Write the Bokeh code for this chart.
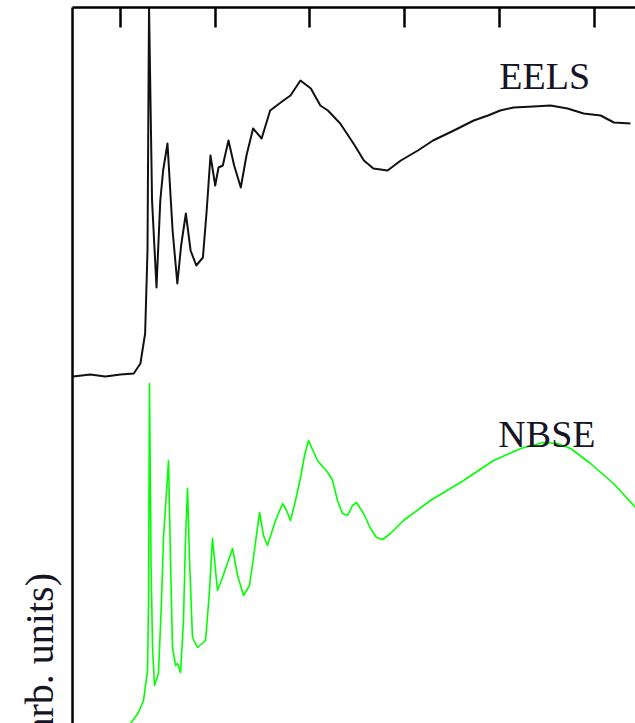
import numpy as np
from bokeh.plotting import figure
from bokeh.models import Range1d, LinearAxis, FixedTicker, Label, Title
from bokeh.embed import file_html
from bokeh.resources import INLINE

# energy (eV) and intensities (arb. units)
eels_energy = [275.0, 276.8, 278.4, 280.0, 281.4, 282.1, 282.6, 282.85, 283.01, 283.33,
               283.8, 284.2, 284.5, 284.96, 285.5, 286.0, 286.4, 286.9, 287.4, 288.0,
               288.7, 289.1, 289.5, 290.0, 290.35, 290.8, 291.4, 292.0, 292.7, 293.3,
               294.0, 294.9, 295.8, 297.2, 297.95, 299.0, 300.1, 301.1, 301.9, 303.2,
               304.6, 305.7, 306.7, 308.2, 309.6, 311.4, 313.0, 315.2, 317.3, 318.8,
               320.1, 321.5, 323.6, 325.4, 327.2, 328.9, 330.7, 332.1, 333.85]
eels = [-0.01, 0.01, -0.01, 0.01, 0.02, 0.12, 0.42, 1.25, 3.70, 1.75,
        0.88, 1.75, 2.05, 2.32, 1.45, 0.92, 1.30, 1.62, 1.25, 1.10,
        1.18, 1.65, 2.20, 1.90, 2.08, 2.10, 2.35, 2.10, 1.88, 2.20,
        2.47, 2.37, 2.65, 2.75, 2.80, 2.95, 2.87, 2.70, 2.65, 2.52,
        2.32, 2.15, 2.07, 2.05, 2.15, 2.25, 2.35, 2.45, 2.55, 2.60,
        2.65, 2.68, 2.69, 2.70, 2.67, 2.62, 2.60, 2.53, 2.52]

nbse_energy = [281.06, 281.9, 282.43, 282.85, 282.96, 283.06, 283.22, 283.38, 283.59, 284.01,
               284.33, 284.54, 285.07, 285.28, 285.49, 285.81, 286.02, 286.34, 286.65, 286.86,
               287.08, 287.29, 287.6, 288.13, 288.98, 289.4, 289.71, 290.24, 290.77, 291.83,
               292.36, 292.99, 293.62, 294.04, 294.68, 295.1, 295.52, 296.37, 297.11, 297.53,
               297.95, 298.48, 299.01, 299.43, 299.85, 300.8, 301.96, 302.39, 302.91, 303.44,
               303.97, 304.5, 304.92, 305.66, 306.4, 307.03, 307.67, 308.51, 309.88, 312.73,
               316.22, 319.39, 322.24, 324.67, 326.15, 327.52, 329.63, 332.06, 334.38]
nbse = [-0.08, 0.03, 0.15, 0.45, 1.15, 3.32, 1.55, 0.68, 0.30, 0.42,
        1.15, 1.78, 2.55, 1.55, 0.68, 0.50, 0.52, 0.43, 0.95, 1.75,
        2.27, 1.55, 0.78, 0.68, 0.75, 1.25, 1.77, 1.25, 1.38, 1.67,
        1.40, 1.20, 1.30, 1.58, 2.03, 1.80, 1.70, 1.95, 2.12, 2.05,
        1.95, 2.15, 2.38, 2.60, 2.75, 2.55, 2.42, 2.35, 2.15, 2.02,
        2.00, 2.10, 2.13, 2.02, 1.87, 1.78, 1.76, 1.82, 1.95, 2.15,
        2.35, 2.55, 2.67, 2.73, 2.72, 2.67, 2.52, 2.32, 2.08]

eels_offset = 3.40
nbse_offset = 0.0

tick_values = [280, 290, 300, 310, 320, 330]
curve_names = ["EELS", "NBSE", "XCH"]
y_title = "Intensity (arb. units)"

p = figure(width=635, height=723, x_range=Range1d(274.93, 334.38), y_range=Range1d(-0.08, 7.08),
           x_axis_location=None, y_axis_location=None, toolbar_location=None,
           output_backend="svg", min_border_left=72, min_border_right=0,
           min_border_top=7, min_border_bottom=0, outline_line_color=None)
p.grid.grid_line_color = None

top = LinearAxis(ticker=FixedTicker(ticks=tick_values))
top.major_tick_in = 20
top.major_tick_out = 0
top.major_tick_line_width = 2.5
top.minor_tick_line_color = None
top.axis_line_width = 2.5
top.major_label_text_font_size = "0px"
top.major_label_text_color = None
top.major_label_standoff = 0
p.add_layout(top, "above")

left = LinearAxis(ticker=FixedTicker(ticks=[]))
left.major_tick_line_color = None
left.minor_tick_line_color = None
left.axis_line_width = 2.5
left.major_label_text_font_size = "0px"
left.major_label_text_color = None
left.major_label_standoff = 0
p.add_layout(left, "left")

# y title sits in the left panel; its centre is below the visible area
p.add_layout(Title(text=y_title, align="left", offset=-175, standoff=21,
                   text_font="Liberation Serif", text_font_size="40px",
                   text_font_style="normal", text_color="#151525"), "left")

p.line(eels_energy, np.array(eels) + eels_offset, line_color="#111111",
       line_width=2.0, line_join="round")
p.line(nbse_energy, np.array(nbse) + nbse_offset, line_color="#00ff00",
       line_width=1.6, line_join="round")

label_pos = [(320.0, 6.40), (319.9, 2.82), (319.9, -0.30)]
for name, (lx, ly) in zip(curve_names, label_pos):
    p.add_layout(Label(x=lx, y=ly, text=name, text_font="Liberation Serif",
                       text_font_size="38px", text_color="#151525",
                       text_baseline="alphabetic"))

open("out.html", "w").write(file_html(p, INLINE))
